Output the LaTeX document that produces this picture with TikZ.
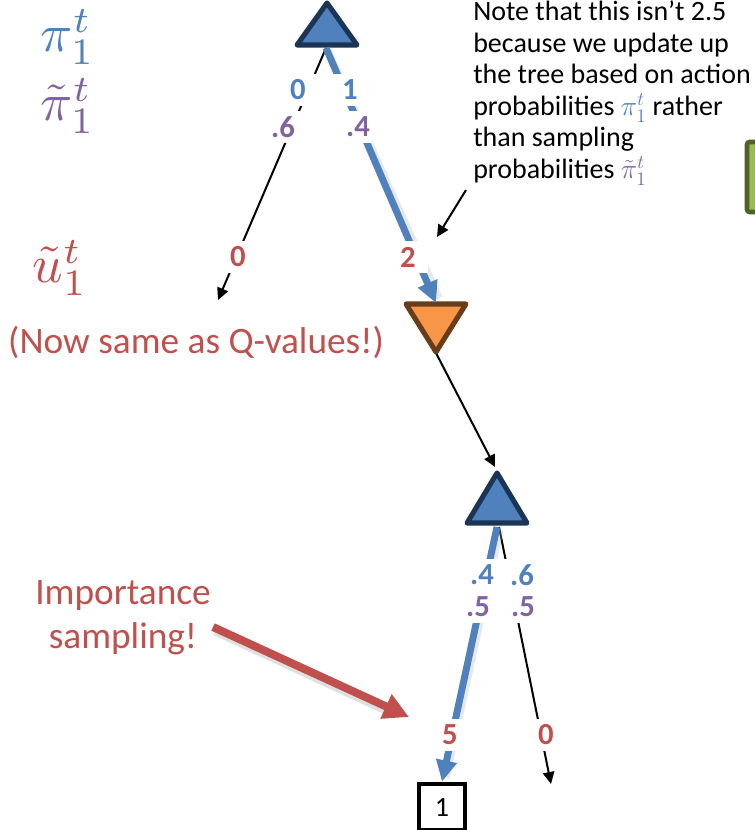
\documentclass[tikz,border=0pt]{standalone}
\usepackage{graphicx}
\usepackage{fontspec}
\setmainfont{Carlito}
\usetikzlibrary{arrows.meta}
\definecolor{cblue}{HTML}{4F81BD}
\definecolor{cpurple}{HTML}{8064A2}
\definecolor{cred}{HTML}{C0504D}
\definecolor{corange}{HTML}{F79646}
\definecolor{cnavy}{HTML}{1C3556}
\definecolor{cbrown}{HTML}{6A3D1A}
\definecolor{cgreen}{HTML}{9BBB59}
\definecolor{cdgreen}{HTML}{4F6228}
\newcommand{\bigmath}[1]{\scalebox{4}{$#1$}}
\begin{document}
\begin{tikzpicture}[x=0.75pt,y=-0.75pt,
  num/.style={font=\fontsize{23}{26}\selectfont\bfseries, fill=white, inner sep=0pt, minimum width=30pt, minimum height=24pt},
  mathlab/.style={font=\fontsize{10}{12}\selectfont, inner sep=0pt},
  notetext/.style={font=\fontsize{21}{24}\selectfont, anchor=base west, inner sep=0pt},
  bigred/.style={font=\fontsize{28}{33}\selectfont, text=cred, inner sep=0pt, align=center},
  blackarrow/.style={draw=black, line width=1.5pt, -{Triangle[length=9pt,width=8.5pt]}},
  bluearrow/.style={draw=cblue, line width=5.2pt, -{Triangle[length=16pt,width=15pt]}},
  shadowline/.style={draw=black!30, opacity=0.3, line width=5.5pt},
  maxtri/.style={fill=cblue, draw=cnavy, line width=3.8pt, line join=round},
  mintri/.style={fill=corange, draw=cbrown, line width=3.8pt, line join=round},
  termbox/.style={draw=black, line width=3pt, minimum width=34.5pt, minimum height=35pt, inner sep=0pt, font=\fontsize{21}{24}\selectfont}
]
\useasboundingbox (0,0) rectangle (755,830);

% green box at the right edge
\draw[fill=cgreen, draw=cdgreen, line width=3.5pt, rounded corners=2pt] (747,142) rectangle (790,212);

% tree node anchors
\coordinate (rootbase) at (326,48);
\coordinate (mintop) at (436,303);
\coordinate (minapex) at (436,353);
\coordinate (maxapex) at (495,467);
\coordinate (maxbase) at (497,527);
\coordinate (leftend) at (218,300);
\coordinate (rightend) at (551,784);

% black branches
\draw[blackarrow] (rootbase) -- (leftend);
\draw[blackarrow] (minapex) -- (maxapex);
\draw[blackarrow] (499,527) -- (rightend);

% triangles
\draw[maxtri] (327,3) -- (357,45) -- (297,45) -- cycle;
\draw[mintri] (406,304) -- (466,304) -- (436,352) -- cycle;
\draw[maxtri] (497,473) -- (527,523) -- (467,523) -- cycle;

% terminal box
\node[termbox] (term) at (442,807) {1};

% blue sampled path
\draw[shadowline] (328,51) -- (439,298);
\draw[bluearrow] (rootbase) -- (mintop);
\draw[shadowline] (500,530) -- (446,778);
\draw[bluearrow] (maxbase) -- (term.north);

% labels on the root branches
\node[num, text=cblue] (r0) at (298,90) {0};
\node[num, text=cblue] (r1) at (350,90) {1};
\node[num, text=cpurple] (r6) at (283,127) {.6};
\node[num, text=cpurple] (r4) at (358,127) {.4};
\node[num, text=cred] (u0) at (238,257) {0};
\node[num, text=cred] (u2) at (408,257) {2};

% labels on the lower branches
\node[num, text=cblue] (l4) at (482,575) {.4};
\node[num, text=cblue] (l6) at (522,575) {.6};
\node[num, text=cpurple] (l5a) at (478,607) {.5};
\node[num, text=cpurple] (l5b) at (523,607) {.5};
\node[num, text=cred] (v5) at (450,735) {5};
\node[num, text=cred] (v0) at (546,735) {0};

% row labels
\node[mathlab, text=cblue] (pilab) at (68,37) {\bigmath{\pi_1^t}};
\node[mathlab, text=cpurple] (pitlab) at (68,106) {\bigmath{\tilde{\pi}_1^t}};
\node[mathlab, text=cred] (ulab) at (60,268) {\bigmath{\tilde{u}_1^t}};

% note
\node[notetext] (n1) at (473,21) {Note that this isn’t 2.5};
\node[notetext] (n2) at (473,52.5) {because we update up};
\node[notetext] (n3) at (473,84) {the tree based on action};
\node[notetext] (n4) at (473,115.5) {probabilities \textcolor{cblue}{$\pi_1^t$} rather};
\node[notetext] (n5) at (473,147) {than sampling};
\node[notetext] (n6) at (473,178.5) {probabilities \textcolor{cpurple}{$\tilde{\pi}_1^t$}};
\coordinate (notept) at (466,190);
\coordinate (notetip) at (437,237);
\draw[blackarrow] (notept) -- (notetip);

% red annotations
\node[bigred] (nowsame) at (196,342) {(Now same as Q-values!)};
\node[bigred] (imp) at (123,618) {Importance\\sampling!};
\coordinate (impstart) at (213,627);
\coordinate (imptip) at (409,717);
\draw[draw=black!40, opacity=0.3, line width=6.5pt] (215,631) -- (392,713);
\draw[draw=cred, line width=6pt, -{Triangle[length=19pt,width=19pt]}] (impstart) -- (imptip);
\end{tikzpicture}
\end{document}
